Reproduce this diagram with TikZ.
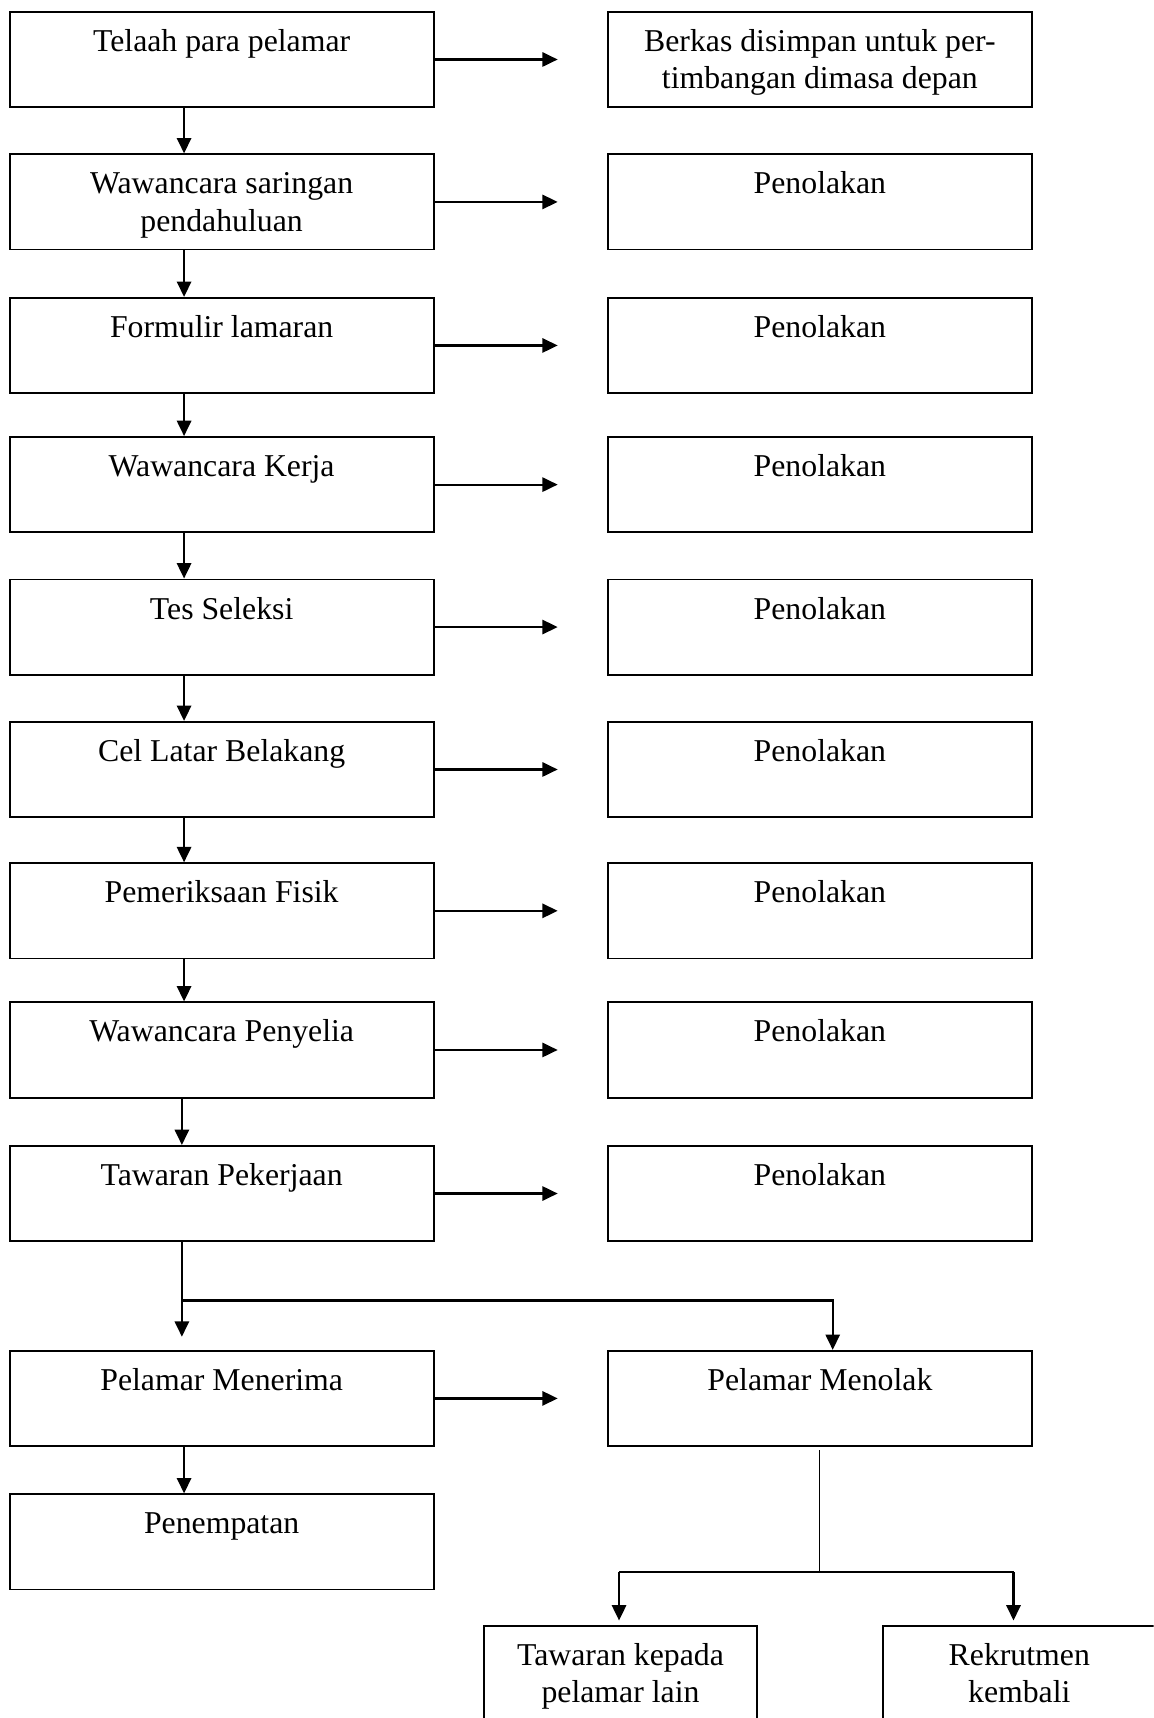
\documentclass[tikz,border=0pt]{standalone}
\usepackage{fontspec}
\setmainfont{Liberation Serif}
\usetikzlibrary{arrows.meta}
\newcommand{\dfont}{\fontsize{29}{34}\selectfont}
\begin{document}
\begin{tikzpicture}[x=1pt,y=-1pt,
  box/.style={draw, line width=1.6pt, minimum width=387pt, minimum height=87pt, inner sep=0pt, anchor=north west},
  lbl/.style={anchor=north, inner sep=0pt, align=center, font=\dfont, yshift=-13pt},
  arr/.style={line width=2pt, -{Triangle[length=14pt,width=13pt]}},
  plain/.style={line width=2pt},
  thinline/.style={line width=1.1pt}]
\useasboundingbox (0,0) rectangle (1053,1568);
\clip (0,0) rectangle (1053,1568);

% left column
\node[box, label={[lbl]north:\strut Telaah para pelamar}] (l1) at (8,10) {};
\node[box, label={[lbl]north:\strut Wawancara saringan\\pendahuluan}] (l2) at (8,140) {};
\node[box, label={[lbl]north:\strut Formulir lamaran}] (l3) at (8,271) {};
\node[box, label={[lbl]north:\strut Wawancara Kerja}] (l4) at (8,398) {};
\node[box, label={[lbl]north:\strut Tes Seleksi}] (l5) at (8,528) {};
\node[box, label={[lbl]north:\strut Cel Latar Belakang}] (l6) at (8,658) {};
\node[box, label={[lbl]north:\strut Pemeriksaan Fisik}] (l7) at (8,787) {};
\node[box, label={[lbl]north:\strut Wawancara Penyelia}] (l8) at (8,914) {};
\node[box, label={[lbl]north:\strut Tawaran Pekerjaan}] (l9) at (8,1045) {};
\node[box, label={[lbl]north:\strut Pelamar Menerima}] (l10) at (8,1232) {};
\node[box, label={[lbl]north:\strut Penempatan}] (l11) at (8,1363) {};

% right column
\node[box, label={[lbl]north:\strut Berkas disimpan untuk per-\\timbangan dimasa depan}] (r1) at (554,10) {};
\node[box, label={[lbl]north:\strut Penolakan}] (r2) at (554,140) {};
\node[box, label={[lbl]north:\strut Penolakan}] (r3) at (554,271) {};
\node[box, label={[lbl]north:\strut Penolakan}] (r4) at (554,398) {};
\node[box, label={[lbl]north:\strut Penolakan}] (r5) at (554,528) {};
\node[box, label={[lbl]north:\strut Penolakan}] (r6) at (554,658) {};
\node[box, label={[lbl]north:\strut Penolakan}] (r7) at (554,787) {};
\node[box, label={[lbl]north:\strut Penolakan}] (r8) at (554,914) {};
\node[box, label={[lbl]north:\strut Penolakan}] (r9) at (554,1045) {};
\node[box, label={[lbl]north:\strut Pelamar Menolak}] (r10) at (554,1232) {};

% bottom boxes
\node[box, minimum width=249pt, minimum height=110pt, label={[lbl]north:\strut Tawaran kepada\\pelamar lain}] (t1) at (441,1483) {};
\node[box, minimum width=252pt, minimum height=110pt, label={[lbl,xshift=-1.5pt]north:\strut Rekrutmen\\kembali}] (t2) at (805,1483) {};

% helper coordinates
\coordinate (vx) at (168,0);
\coordinate (vy) at (166,0);
\coordinate (hx) at (509,0);

% horizontal arrows
\foreach \i in {1,...,10} {
  \draw[arr] (l\i.east) -- (l\i.east -| hx);
}

% vertical arrows
\foreach \i/\j in {1/2,2/3,3/4,4/5,5/6,6/7,7/8} {
  \draw[arr] (l\i.south -| vx) -- (l\j.north -| vx);
}
\draw[arr] (l8.south -| vy) -- (l9.north -| vy);
\draw[arr] (l10.south -| vx) -- (l11.north -| vx);

% split after Tawaran Pekerjaan
\coordinate (s1) at (166,1220);
\coordinate (sp) at (166,1187);
\coordinate (sq) at (760,1187);
\draw[arr] (l9.south -| vy) -- (s1);
\draw[arr] (sp) -- (sq) -- (r10.north -| sq);

% Pelamar Menolak branches
\coordinate (md) at (748,1435);
\coordinate (bl) at (565,1435);
\coordinate (br) at (925,1435);
\draw[thinline] ([yshift=-3pt]r10.south -| md) -- (md);
\draw[plain] (bl) -- (br);
\draw[arr, shorten >=4pt] (bl) -- (t1.north -| bl);
\draw[arr, shorten >=4pt] (br) -- (t2.north -| br);
\end{tikzpicture}
\end{document}
